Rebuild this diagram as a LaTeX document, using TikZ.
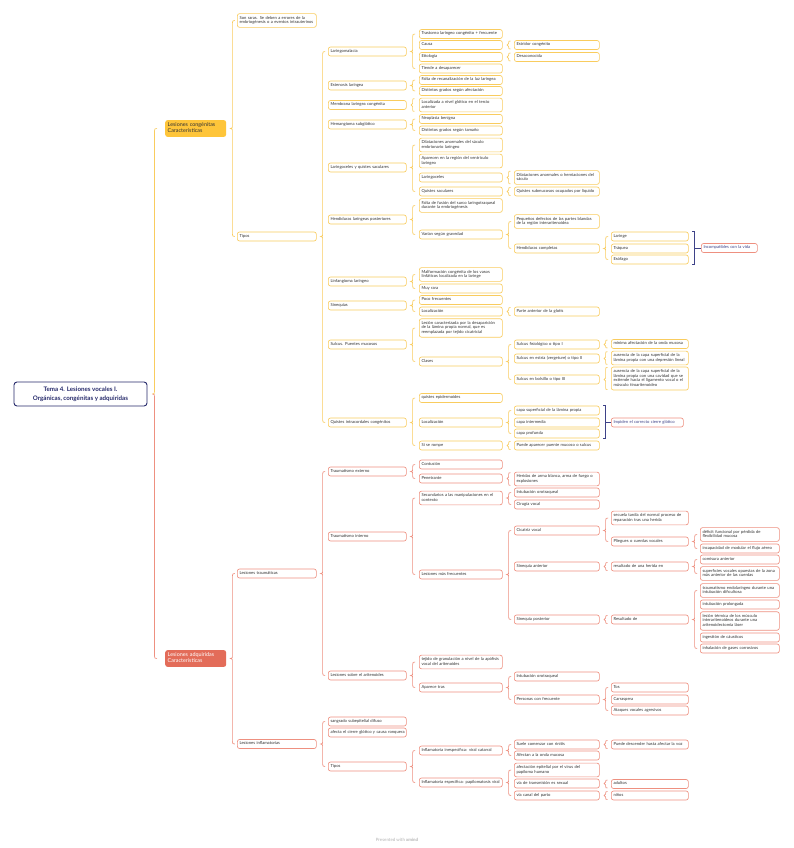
\documentclass[tikz,border=0pt]{standalone}
\usepackage{fontspec}
\setmainfont{Lato}
\usetikzlibrary{calc}
\definecolor{ambB}{HTML}{F9CC5E}
\definecolor{ambF}{HTML}{FEC53A}
\definecolor{redB}{HTML}{EE9080}
\definecolor{redF}{HTML}{E36C59}
\definecolor{navy}{HTML}{262A6B}
\definecolor{sumc}{HTML}{3E4288}
\definecolor{txt}{HTML}{333333}
\newcommand\leaffont{\fontsize{4.15}{4.7}\selectfont}
\newcommand\lonefont{\fontsize{5.4}{6.1}\selectfont}
\newcommand\rootfont{\fontsize{6.2}{8.8}\selectfont\bfseries}
\newcommand\tbx[1]{\begin{tabular}{@{}l@{}}#1\end{tabular}}
\tikzset{
  bx/.style={draw, rounded corners=2.2pt, line width=0.65pt, fill=white, font=\leaffont, text=txt,
    inner xsep=2.2pt, inner ysep=2.15pt, align=left, anchor=west},
  ya/.style={bx, draw=ambB},
  rd/.style={bx, draw=redB},
  sm/.style={bx, draw=redB, text=sumc},
  c2/.style={text width=74.6pt},
  c3/.style={text width=73.6pt},
  c4/.style={text width=78.6pt},
  c5/.style={text width=80.6pt},
  c6/.style={text width=72.6pt},
  c7/.style={text width=74.6pt},
  lnA/.style={draw=ambB, line width=0.65pt},
  lnR/.style={draw=redB, line width=0.65pt},
  sumln/.style={draw=sumc, line width=0.9pt},
  lone/.style={rounded corners=2.5pt, font=\lonefont, align=left, anchor=west, text width=56pt,
    inner xsep=2.5pt, inner ysep=2.3pt}
}
% brace from parent (#2) to several children (#3 first, #4 last)
\newcommand\mbr[4]{%
 \coordinate (bm) at ([xshift=6pt]#2.east);
 \coordinate (bt) at (bm |- #3.west);
 \coordinate (bb) at (bm |- #4.west);
 \draw[#1] ($(bt)+(2.5,0)$) .. controls ($(bt)+(0.4,0)$) and ($(bt)+(0,0.4)$) .. ($(bt)+(0,2.5)$)
   -- ($(bm)+(0,-2.2)$) .. controls ($(bm)+(0,-0.5)$) .. ($(bm)+(-2,0)$)
   .. controls ($(bm)+(0,0.5)$) .. ($(bm)+(0,2.2)$)
   -- ($(bb)+(0,-2.5)$) .. controls ($(bb)+(0,-0.4)$) and ($(bb)+(0.4,0)$) .. ($(bb)+(2.5,0)$);}
% brace from parent (#2) to a single child (#3)
\newcommand\obr[3]{%
 \coordinate (bm) at ([xshift=6pt]#2.east);
 \coordinate (bt) at ($(bm |- #3.north)+(0,0.8)$);
 \coordinate (bb) at ($(bm |- #3.south)+(0,-0.8)$);
 \draw[#1] ($(bt)+(1.8,0)$) .. controls ($(bt)+(0.3,0)$) and ($(bt)+(0,0.3)$) .. ($(bt)+(0,1.6)$)
   -- ($(bm)+(0,-1.5)$) .. controls ($(bm)+(0,-0.4)$) .. ($(bm)+(-1.6,0)$)
   .. controls ($(bm)+(0,0.4)$) .. ($(bm)+(0,1.5)$)
   -- ($(bb)+(0,-1.6)$) .. controls ($(bb)+(0,-0.3)$) and ($(bb)+(0.3,0)$) .. ($(bb)+(1.8,0)$);}
% summary bracket
\newcommand\msum[3]{%
 \coordinate (sx) at ([xshift=6pt]#1.east);
 \draw[sumln] ($(sx |- #1.north)+(-2.5,0)$) -- (sx |- #1.north) -- (sx |- #2.south) -- ($(sx |- #2.south)+(-2.5,0)$);
 \draw[sumln] (sx |- #3.west) -- (#3.west);}
\begin{document}
\begin{tikzpicture}[x=1pt,y=-1pt]
\useasboundingbox (0,0) rectangle (794,848);
\fill[white] (0,0) rectangle (794,848);

% root and level 1
\node[draw=navy, line width=0.9pt, rounded corners=3pt, fill=white, font=\rootfont, text=navy,
  align=center, minimum width=133pt, minimum height=24pt, inner sep=1pt] (root) at (80.5,394)
  {Tema 4. Lesiones vocales I.\\Orgánicas, congénitas y adquiridas};
\node[lone, fill=ambF, text=txt] (cong) at (165,128.5) {\tbx{Lesiones congénitas\\Características}};
\node[lone, fill=redF, text=white] (adq) at (165,658.5) {\tbx{Lesiones adquiridas\\Características}};

% ---------- congénitas ----------
\node[ya,c2] (sonraras) at (237,20.5) {\tbx{Son raras. Se deben a errores de la\\embriogénesis o a eventos intrauterinos}};
\node[ya,c2] (tiposA) at (237,236.5) {\tbx{Tipos}};

\node[ya,c3] (laringomalacia) at (328,51.5) {\tbx{Laringomalacia}};
\node[ya,c3] (estenosis) at (328,85.5) {\tbx{Estenosis laríngea}};
\node[ya,c3] (membrana) at (328,105) {\tbx{Membrana laríngea congénita}};
\node[ya,c3] (hemangioma) at (328,124.5) {\tbx{Hemangioma subglótico}};
\node[ya,c3] (laringoceles) at (328,167.5) {\tbx{Laringoceles y quistes saculares}};
\node[ya,c3] (hendiduras) at (328,219.5) {\tbx{Hendiduras laríngeas posteriores}};
\node[ya,c3] (linfangioma) at (328,281.5) {\tbx{Linfangioma laríngeo}};
\node[ya,c3] (sinequias) at (328,305.5) {\tbx{Sinequias}};
\node[ya,c3] (sulcus) at (328,344.5) {\tbx{Sulcus. Puentes mucosos}};
\node[ya,c3] (quistes) at (328,422.5) {\tbx{Quistes intracordales congénitos}};

\node[ya,c4] (trastorno) at (419,34) {\tbx{Trastorno laríngeo congénito + frecuente}};
\node[ya,c4] (causa) at (419,45) {\tbx{Causa}};
\node[ya,c4] (etiologia) at (419,57) {\tbx{Etiología}};
\node[ya,c4] (tiende) at (419,68.5) {\tbx{Tiende a desaparecer}};
\node[ya,c4] (falta) at (419,80) {\tbx{Falta de recanalización de la luz laríngea}};
\node[ya,c4] (distintos) at (419,91) {\tbx{Distintos grados según afectación}};
\node[ya,c4] (localizada) at (419,105) {\tbx{Localizada a nivel glótico en el tercio\\anterior}};
\node[ya,c4] (neoplasia) at (419,119) {\tbx{Neoplasia benigna}};
\node[ya,c4] (distintosb) at (419,130.5) {\tbx{Distintos grados según tamaño}};
\node[ya,c4] (dilat) at (419,145) {\tbx{Dilataciones anormales del sáculo\\embrionario laríngeo}};
\node[ya,c4] (aparecen) at (419,161) {\tbx{Aparecen en la región del ventrículo\\laríngeo}};
\node[ya,c4] (laringocelesb) at (419,177.5) {\tbx{Laringoceles}};
\node[ya,c4] (quistessac) at (419,191.5) {\tbx{Quistes saculares}};
\node[ya,c4] (faltafusion) at (419,205.5) {\tbx{Falta de fusión del surco laringotraqueal\\durante la embriogénesis}};
\node[ya,c4] (varian) at (419,234.5) {\tbx{Varían según gravedad}};
\node[ya,c4] (malformacion) at (419,274.5) {\tbx{Malformación congénita de los vasos\\linfáticos localizada en la laringe}};
\node[ya,c4] (muyrara) at (419,288.5) {\tbx{Muy rara}};
\node[ya,c4] (poco) at (419,300) {\tbx{Poco frecuentes}};
\node[ya,c4] (localiz) at (419,311.5) {\tbx{Localización}};
\node[ya,c4] (lesion) at (419,328) {\tbx{Lesión caracterizada por la desaparición\\de la lámina propia normal, que es\\reemplazada por tejido cicatricial}};
\node[ya,c4] (clases) at (419,361.5) {\tbx{Clases}};
\node[ya,c4] (epid) at (419,398) {\tbx{quistes epidermoides}};
\node[ya,c4] (localizb) at (419,422.5) {\tbx{Localización}};
\node[ya,c4] (sirompe) at (419,445.5) {\tbx{Si se rompe}};

\node[ya,c5] (estridor) at (514,45) {\tbx{Estridor congénito}};
\node[ya,c5] (desconocida) at (514,57) {\tbx{Desaconocida}};
\node[ya,c5] (dilatb) at (514,177.5) {\tbx{Dilataciones anormales o herniaciones del\\sáculo}};
\node[ya,c5] (submuc) at (514,191.5) {\tbx{Quistes submucosos ocupados por líquido}};
\node[ya,c5] (pequenos) at (514,221.5) {\tbx{Pequeños defectos de las partes blandas\\de la región interaritenoidea}};
\node[ya,c5] (hendcompl) at (514,248.5) {\tbx{Hendiduras completas}};
\node[ya,c5] (parteant) at (514,311.5) {\tbx{Parte anterior de la glotis}};
\node[ya,c5] (sulcusI) at (514,344.5) {\tbx{Sulcus fisiológico o tipo I}};
\node[ya,c5] (sulcusII) at (514,358.5) {\tbx{Sulcus en estría (vergeture) o tipo II}};
\node[ya,c5] (sulcusIII) at (514,379.5) {\tbx{Sulcus en bolsillo o tipo III}};
\node[ya,c5] (capasup) at (514,410.5) {\tbx{capa superficial de la lámina propia}};
\node[ya,c5] (capaint) at (514,422.5) {\tbx{capa intermedia}};
\node[ya,c5] (capaprof) at (514,433.5) {\tbx{capa profunda}};
\node[ya,c5] (puede) at (514,445.5) {\tbx{Puede aparecer puente mucoso o sulcus}};

\node[ya,c6] (laringe) at (611,236.5) {\tbx{Laringe}};
\node[ya,c6] (traquea) at (611,248.5) {\tbx{Tráquea}};
\node[ya,c6] (esofago) at (611,259.5) {\tbx{Esófago}};
\node[ya,c6] (minima) at (611,344) {\tbx{mínima afectación de la onda mucosa}};
\node[ya,c6] (ausenciaA) at (611,358) {\tbx{ausencia de la capa superficial de la\\lámina propia con una depresión lineal}};
\node[ya,c6] (ausenciaB) at (611,378.5) {\tbx{ausencia de la capa superficial de la\\lámina propia con una cavidad que se\\extiende hacia el ligamento vocal o el\\músculo tiroaritenoideo}};

\node[sm, text width=51.6pt] (incompat) at (701,248) {\tbx{Incompatibles con la vida}};
\node[sm, text width=67.6pt] (impiden) at (611,422.5) {\tbx{Impiden el correcto cierre glótico}};

% ---------- adquiridas ----------
\node[rd,c2] (traumaticas) at (237,573.5) {\tbx{Lesiones traumáticas}};
\node[rd,c2] (inflamatorias) at (237,744) {\tbx{Lesiones inflamatorias}};

\node[rd,c3] (externo) at (328,471.5) {\tbx{Traumatismo externo}};
\node[rd,c3] (interno) at (328,536.5) {\tbx{Traumatismo interno}};
\node[rd,c3] (aritenoides) at (328,675.5) {\tbx{Lesiones sobre el aritenoides}};
\node[rd,c3] (sangrado) at (328,721.5) {\tbx{sangrado subepitelial difuso}};
\node[rd,c3] (afecta) at (328,732.5) {\tbx{afecta el cierre glótico y causa ronquera}};
\node[rd,c3] (tiposB) at (328,766.5) {\tbx{Tipos}};

\node[rd,c4] (contusion) at (419,464.5) {\tbx{Contusión}};
\node[rd,c4] (penetrante) at (419,478.5) {\tbx{Penetrante}};
\node[rd,c4] (secundarios) at (419,498) {\tbx{Secundarios a las manipulaciones en el\\contexto}};
\node[rd,c4] (masfrec) at (419,574.5) {\tbx{Lesiones más frecuentes}};
\node[rd,c4] (tejido) at (419,662) {\tbx{tejido de granulación a nivel de la apófisis\\vocal del aritenoides}};
\node[rd,c4] (aparece) at (419,687.5) {\tbx{Aparece tras}};
\node[rd,c4] (inesp) at (419,750.5) {\tbx{Inflamatoria inespecífica: viral catarral}};
\node[rd,c4] (esp) at (419,782.5) {\tbx{Inflamatoria específica: papilomatosis viral}};

\node[rd,c5] (heridas) at (514,479) {\tbx{Heridas de arma blanca, arma de fuego o\\explosiones}};
\node[rd,c5] (intub) at (514,492.5) {\tbx{Intubación orotraqueal}};
\node[rd,c5] (cirugia) at (514,504.5) {\tbx{Cirugía vocal}};
\node[rd,c5] (cicatriz) at (514,530.5) {\tbx{Cicatriz vocal}};
\node[rd,c5] (sineqant) at (514,566.5) {\tbx{Sinequia anterior}};
\node[rd,c5] (sineqpost) at (514,619.5) {\tbx{Sinequia posterior}};
\node[rd,c5] (intubB) at (514,676.5) {\tbx{Intubación orotraqueal}};
\node[rd,c5] (personas) at (514,699.5) {\tbx{Personas con frecuente}};
\node[rd,c5] (suele) at (514,744.5) {\tbx{Suele comenzar con rinitis}};
\node[rd,c5] (afectan) at (514,755.5) {\tbx{Afectan a la onda mucosa}};
\node[rd,c5] (afectacion) at (514,770) {\tbx{afectación epitelial por el virus del\\papiloma humano}};
\node[rd,c5] (via) at (514,783.5) {\tbx{vía de transmisión es sexual}};
\node[rd,c5] (viacanal) at (514,795.5) {\tbx{vía canal del parto}};

\node[rd,c6] (secuela) at (611,518) {\tbx{secuela tardía del normal proceso de\\reparación tras una herida}};
\node[rd,c6] (pliegues) at (611,541.5) {\tbx{Pliegues o cuerdas vocales}};
\node[rd,c6] (resultado) at (611,566.5) {\tbx{resultado de una herida en}};
\node[rd,c6] (resultadoB) at (611,619.5) {\tbx{Resultado de}};
\node[rd,c6] (tos) at (611,687.5) {\tbx{Tos}};
\node[rd,c6] (carraspera) at (611,699.5) {\tbx{Carraspera}};
\node[rd,c6] (ataques) at (611,710.5) {\tbx{Ataques vocales agresivos}};
\node[rd,c6] (puededesc) at (611,744.5) {\tbx{Puede descender hasta afectar la voz}};
\node[rd,c6] (adultos) at (611,784) {\tbx{adultos}};
\node[rd,c6] (ninos) at (611,795.5) {\tbx{niños}};

\node[rd,c7] (deficit) at (700,534.5) {\tbx{déficit funcional por pérdida de\\flexibilidad mucosa}};
\node[rd,c7] (incapacidad) at (700,548.5) {\tbx{incapacidad de modular el flujo aéreo}};
\node[rd,c7] (comisura) at (700,559.5) {\tbx{comisura anterior}};
\node[rd,c7] (superficies) at (700,573.5) {\tbx{superficies vocales opuestas de la zona\\más anterior de las cuerdas}};
\node[rd,c7] (traumaendo) at (700,590.5) {\tbx{traumatismo endolaríngeo durante una\\intubación dificultosa}};
\node[rd,c7] (prolongada) at (700,604.5) {\tbx{intubación prolongada}};
\node[rd,c7] (termica) at (700,621) {\tbx{lesión térmica de los músculo\\interaritenoideos durante una\\aritenoidectomía láser}};
\node[rd,c7] (ingestion) at (700,637.5) {\tbx{ingestión de cáusticos}};
\node[rd,c7] (inhalacion) at (700,648.5) {\tbx{inhalación de gases corrosivos}};

\node[font=\fontsize{4.4}{5}\selectfont, text=black!30] (wm) at (397,840) {Presented with \textbf{xmind}};

% ---------- connectors ----------
\coordinate (rm) at ([xshift=7pt]root.east);
\coordinate (rt) at (rm |- cong.west);
\coordinate (rb) at (rm |- adq.west);
\draw[lnA] ($(rt)+(2.5,0)$) .. controls ($(rt)+(0.4,0)$) and ($(rt)+(0,0.4)$) .. ($(rt)+(0,2.5)$)
  -- ($(rm)+(0,-2.2)$) .. controls ($(rm)+(0,-0.5)$) .. ($(rm)+(-2,0)$);
\draw[lnR] ($(rm)+(-2,0)$) .. controls ($(rm)+(0,0.5)$) .. ($(rm)+(0,2.2)$)
  -- ($(rb)+(0,-2.5)$) .. controls ($(rb)+(0,-0.4)$) and ($(rb)+(0.4,0)$) .. ($(rb)+(2.5,0)$);

\mbr{lnA}{cong}{sonraras}{tiposA}
\mbr{lnA}{tiposA}{laringomalacia}{quistes}
\mbr{lnA}{laringomalacia}{trastorno}{tiende}
\obr{lnA}{causa}{estridor}
\obr{lnA}{etiologia}{desconocida}
\mbr{lnA}{estenosis}{falta}{distintos}
\obr{lnA}{membrana}{localizada}
\mbr{lnA}{hemangioma}{neoplasia}{distintosb}
\mbr{lnA}{laringoceles}{dilat}{quistessac}
\obr{lnA}{laringocelesb}{dilatb}
\obr{lnA}{quistessac}{submuc}
\mbr{lnA}{hendiduras}{faltafusion}{varian}
\mbr{lnA}{varian}{pequenos}{hendcompl}
\mbr{lnA}{hendcompl}{laringe}{esofago}
\mbr{lnA}{linfangioma}{malformacion}{muyrara}
\mbr{lnA}{sinequias}{poco}{localiz}
\obr{lnA}{localiz}{parteant}
\mbr{lnA}{sulcus}{lesion}{clases}
\mbr{lnA}{clases}{sulcusI}{sulcusIII}
\obr{lnA}{sulcusI}{minima}
\obr{lnA}{sulcusII}{ausenciaA}
\obr{lnA}{sulcusIII}{ausenciaB}
\mbr{lnA}{quistes}{epid}{sirompe}
\mbr{lnA}{localizb}{capasup}{capaprof}
\obr{lnA}{sirompe}{puede}
\msum{laringe}{esofago}{incompat}
\msum{capasup}{capaprof}{impiden}

\mbr{lnR}{adq}{traumaticas}{inflamatorias}
\mbr{lnR}{traumaticas}{externo}{aritenoides}
\mbr{lnR}{externo}{contusion}{penetrante}
\obr{lnR}{penetrante}{heridas}
\mbr{lnR}{interno}{secundarios}{masfrec}
\mbr{lnR}{secundarios}{intub}{cirugia}
\mbr{lnR}{masfrec}{cicatriz}{sineqpost}
\mbr{lnR}{cicatriz}{secuela}{pliegues}
\mbr{lnR}{pliegues}{deficit}{incapacidad}
\obr{lnR}{sineqant}{resultado}
\mbr{lnR}{resultado}{comisura}{superficies}
\obr{lnR}{sineqpost}{resultadoB}
\mbr{lnR}{resultadoB}{traumaendo}{inhalacion}
\mbr{lnR}{aritenoides}{tejido}{aparece}
\mbr{lnR}{aparece}{intubB}{personas}
\mbr{lnR}{personas}{tos}{ataques}
\mbr{lnR}{inflamatorias}{sangrado}{tiposB}
\mbr{lnR}{tiposB}{inesp}{esp}
\mbr{lnR}{inesp}{suele}{afectan}
\obr{lnR}{suele}{puededesc}
\mbr{lnR}{esp}{afectacion}{viacanal}
\obr{lnR}{via}{adultos}
\obr{lnR}{viacanal}{ninos}
\end{tikzpicture}
\end{document}
